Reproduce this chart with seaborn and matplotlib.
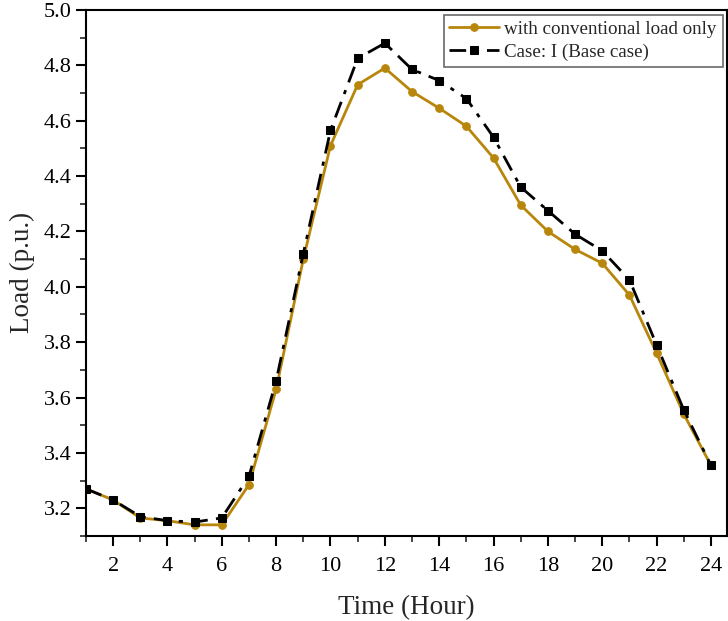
import numpy as np
import pandas as pd
import seaborn as sns
import matplotlib.pyplot as plt
from matplotlib.ticker import MultipleLocator

# Hourly load profile (p.u.)
hours = list(range(1, 25))
conventional = [3.27, 3.23, 3.165, 3.155, 3.14, 3.14, 3.285, 3.63, 4.10, 4.51,
                4.73, 4.79, 4.705, 4.645, 4.58, 4.465, 4.295, 4.20, 4.135, 4.085,
                3.97, 3.76, 3.54, 3.355]
base_case = [3.27, 3.23, 3.17, 3.155, 3.15, 3.165, 3.315, 3.66, 4.12, 4.565,
             4.825, 4.88, 4.785, 4.745, 4.68, 4.54, 4.36, 4.275, 4.19, 4.13,
             4.025, 3.79, 3.555, 3.355]
labels = ["with conventional load only", "Case: I (Base case)"]

sns.set_style("ticks")
plt.rcParams['font.family'] = ['Liberation Serif', 'DejaVu Serif']

fig = plt.figure(figsize=(7.28, 6.21), dpi=100)
ax = fig.add_axes([0.118, 0.137, 0.881, 0.847])

sns.lineplot(x=hours, y=conventional, ax=ax, color="#B8860B", lw=2,
             marker="o", markersize=5.5, markeredgecolor="#B8860B", label=labels[0])
sns.lineplot(x=hours, y=base_case, ax=ax, color="black", lw=2,
             marker="s", markersize=5.5, markeredgecolor="black", label=labels[1])
ax.lines[-1].set_dashes([6, 3, 1.5, 3])

ax.set_xlim(1, 24.6)
ax.set_ylim(3.1, 5.0)
ax.set_xticks(range(2, 25, 2))
ax.xaxis.set_minor_locator(MultipleLocator(1))
ax.yaxis.set_major_locator(MultipleLocator(0.2))
ax.yaxis.set_minor_locator(MultipleLocator(0.1))
ax.tick_params(which='major', direction='out', length=7, width=1.5, labelsize=16, colors='black')
ax.tick_params(which='minor', direction='out', length=4, width=1.2)
ax.tick_params(axis='x', which='major', pad=8)
ax.yaxis.set_major_formatter(plt.FormatStrFormatter('%.1f'))
for s in ax.spines.values():
    s.set_linewidth(1.5)
    s.set_color('black')

ax.set_xlabel("Time (Hour)", fontsize=19.5, labelpad=14)
ax.set_ylabel("Load (p.u.)", fontsize=19.5, labelpad=6)

leg = ax.legend(loc='upper right', fontsize=13.7, frameon=True, fancybox=False,
                borderpad=0.3, handlelength=2.6, handletextpad=0.3, labelspacing=0.3,
                borderaxespad=0.25)
leg.get_frame().set_edgecolor('#444444')
leg.get_frame().set_linewidth(1.2)

fig.savefig("out.png", dpi=100)
